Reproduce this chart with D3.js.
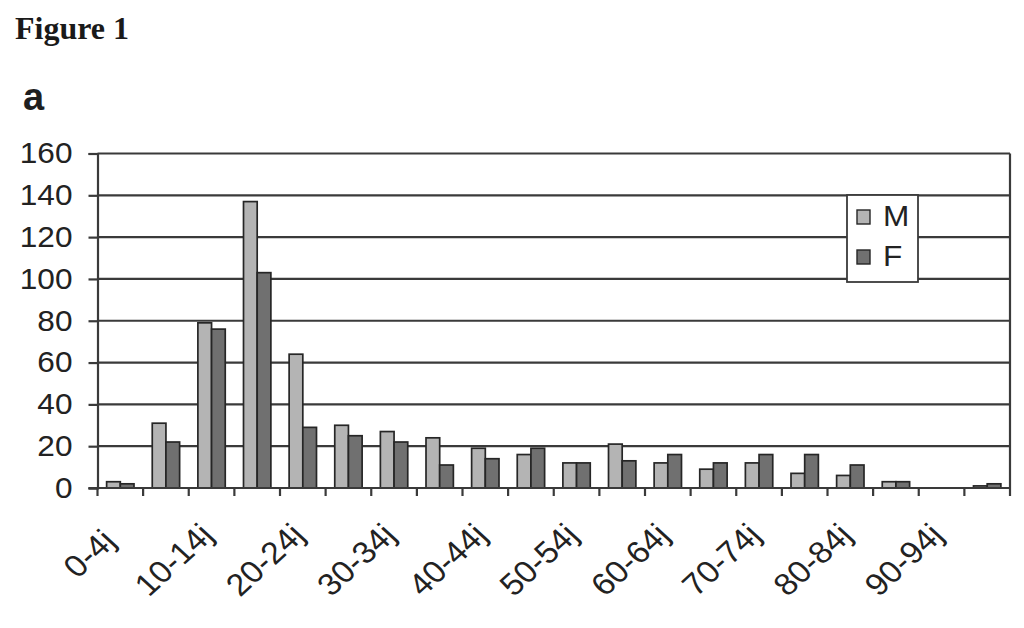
<!DOCTYPE html>
<html>
<head>
<meta charset="utf-8">
<script src="https://cdn.jsdelivr.net/npm/d3@7"></script>
<style>
  html, body { margin: 0; padding: 0; background: #ffffff; }
  svg { display: block; }
</style>
</head>
<body>
<svg id="chart" width="1024" height="628"></svg>
<script>
// ---- data ----
const categories = ["0-4j","5-9j","10-14j","15-19j","20-24j","25-29j","30-34j","35-39j","40-44j","45-49j",
                    "50-54j","55-59j","60-64j","65-69j","70-74j","75-79j","80-84j","85-89j","90-94j","95-99j"];
const seriesNames = ["M", "F"];
const maleValues   = [3, 31, 79, 137, 64, 30, 27, 24, 19, 16, 12, 21, 12, 9, 12, 7, 6, 3, 0, 1];
const femaleValues = [2, 22, 76, 103, 29, 25, 22, 11, 14, 19, 12, 13, 16, 12, 16, 16, 11, 3, 0, 2];
const yTicks = [0, 20, 40, 60, 80, 100, 120, 140, 160];
const xLabelShown = ["0-4j","10-14j","20-24j","30-34j","40-44j","50-54j","60-64j","70-74j","80-84j","90-94j"];

const colors = { M: "#b4b4b4", F: "#707070" };
const rows = categories.map((c, i) => ({ cat: c, M: maleValues[i], F: femaleValues[i] }));

// ---- layout ----
const svg = d3.select("#chart");
const mLeft = 97.5, mRight = 1010, mTop = 153.5, mBottom = 488;
const gridColor = "#3a3a3a";
const sans = "'Liberation Sans', Arial, sans-serif";
const stretch = 1.09;

const x = d3.scaleBand().domain(categories).range([mLeft, mRight]).paddingInner(0).paddingOuter(0);
const xs = d3.scaleBand().domain(seriesNames).range([0, x.bandwidth()]).paddingInner(0).paddingOuter(0.667);
const y = d3.scaleLinear().domain([0, 160]).range([mBottom, mTop]);

// titles
svg.append("text").attr("x", 15).attr("y", 39)
  .attr("font-family", "'Liberation Serif', 'DejaVu Serif', serif")
  .attr("font-weight", "bold").attr("font-size", 32).attr("fill", "#1a1a1a")
  .text("Figure 1");
svg.append("text").attr("x", 23).attr("y", 110)
  .attr("font-family", sans)
  .attr("font-weight", "bold").attr("font-size", 38).attr("fill", "#1f1f1f")
  .text("a");

// gridlines (including top)
svg.append("g").selectAll("line").data(yTicks.filter(d => d > 0)).join("line")
  .attr("x1", mLeft).attr("x2", mRight)
  .attr("y1", d => y(d)).attr("y2", d => y(d))
  .attr("stroke", gridColor).attr("stroke-width", 2.2);

// right border
svg.append("line").attr("x1", mRight).attr("x2", mRight).attr("y1", mTop).attr("y2", mBottom)
  .attr("stroke", gridColor).attr("stroke-width", 2.2);

// bars
const groups = svg.append("g").selectAll("g").data(rows).join("g")
  .attr("transform", d => `translate(${x(d.cat)},0)`);
groups.selectAll("rect").data(d => seriesNames.map(k => ({ k, v: d[k] })).filter(e => e.v > 0)).join("rect")
  .attr("x", d => xs(d.k)).attr("width", xs.bandwidth())
  .attr("y", d => y(d.v)).attr("height", d => y(0) - y(d.v))
  .attr("fill", d => colors[d.k]).attr("stroke", "#262626").attr("stroke-width", 1.7);

// y axis
const yAxis = d3.axisLeft(y).tickValues(yTicks).tickSize(9).tickPadding(14);
const gy = svg.append("g").attr("transform", `translate(${mLeft},0)`).call(yAxis);
gy.select(".domain").attr("stroke", gridColor).attr("stroke-width", 2.2);
gy.selectAll(".tick line").attr("stroke", gridColor).attr("stroke-width", 2.2);
gy.selectAll(".tick text").attr("font-family", sans)
  .attr("font-size", 29).attr("fill", "#222")
  .attr("x", 0).attr("transform", `translate(-25,0) scale(${stretch},1)`);

// x axis (ticks at category boundaries)
const xAxisLine = svg.append("g");
xAxisLine.append("line").attr("x1", mLeft - 9).attr("x2", mRight).attr("y1", mBottom).attr("y2", mBottom)
  .attr("stroke", gridColor).attr("stroke-width", 2.2);
const boundaries = categories.map(c => x(c)).concat([mRight]);
xAxisLine.selectAll("line.b").data(boundaries).join("line").attr("class", "b")
  .attr("x1", d => d).attr("x2", d => d).attr("y1", mBottom).attr("y2", mBottom + 8)
  .attr("stroke", gridColor).attr("stroke-width", 2.2);

const xl = svg.append("g").selectAll("text").data(categories.filter(c => xLabelShown.includes(c))).join("text")
  .attr("transform", d => `translate(${x(d) + x.bandwidth() / 2 - 13},${mBottom + 64}) scale(${stretch},1) rotate(-45)`)
  .attr("text-anchor", "end")
  .attr("font-family", sans)
  .attr("font-size", 31).attr("fill", "#222")
  .text(d => d);
xl.each(function () {
  const len = this.getComputedTextLength();
  d3.select(this).attr("dx", len * 0.25);
});

// legend
const lg = svg.append("g");
lg.append("rect").attr("x", 847).attr("y", 195).attr("width", 71).attr("height", 87)
  .attr("fill", "#fff").attr("stroke", gridColor).attr("stroke-width", 1.8);
const li = lg.selectAll("g").data(seriesNames).join("g")
  .attr("transform", (d, i) => `translate(857,${210 + i * 40})`);
li.append("rect").attr("width", 13).attr("height", 14)
  .attr("fill", d => colors[d]).attr("stroke", "#262626").attr("stroke-width", 1.4);
li.append("text").attr("x", 0).attr("y", 0)
  .attr("transform", `translate(26,15.5) scale(${stretch},1)`)
  .attr("font-family", sans)
  .attr("font-size", 29).attr("fill", "#222")
  .text(d => d);
</script>
</body>
</html>
